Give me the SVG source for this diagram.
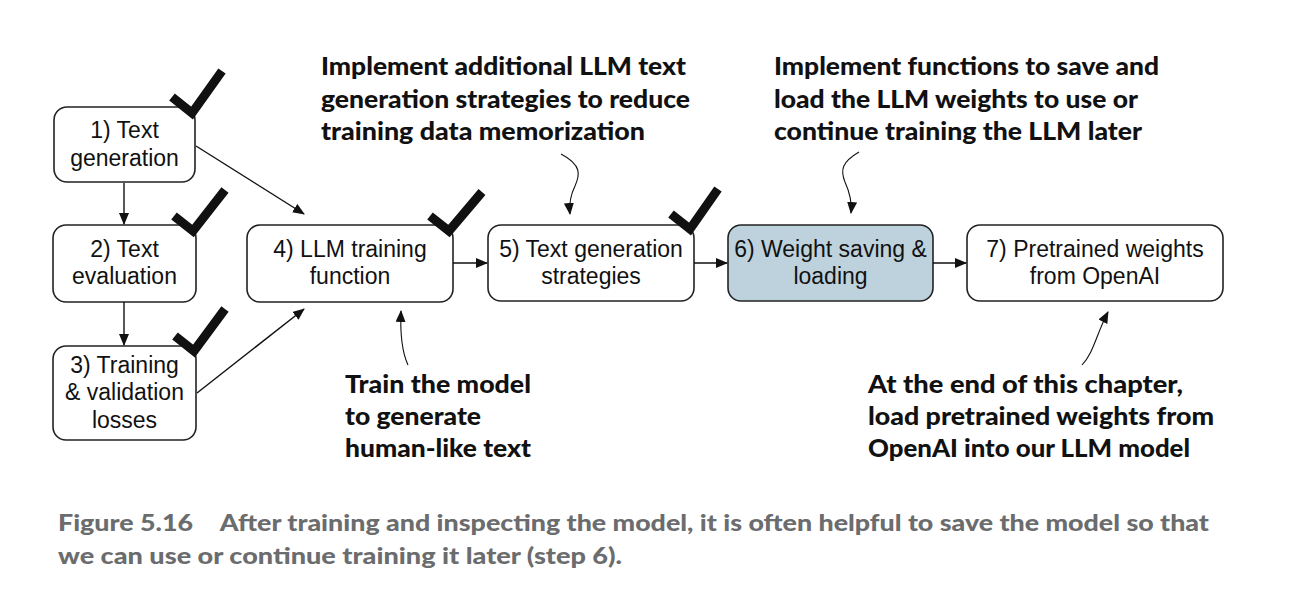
<svg xmlns="http://www.w3.org/2000/svg" width="1308" height="596" viewBox="0 0 1308 596">
<style>
.box{fill:#fff;stroke:#222;stroke-width:1.6}
.hl{fill:#bed2de}
.t{font-family:"Liberation Sans",Arial,sans-serif;font-size:23px;fill:#111;text-anchor:middle}
.a{font-family:Lato,"Open Sans",sans-serif;font-weight:900;font-size:25px;fill:#111}
.cap{font-family:Lato,"Liberation Sans",sans-serif;font-weight:900;font-size:22px;fill:#6b6c6e}
.chk{fill:none;stroke:#111;stroke-width:9;stroke-linejoin:miter;stroke-linecap:butt}
.c{fill:none;stroke:#111;stroke-width:1.4}
.w{fill:none;stroke:#111;stroke-width:1.1}
</style>
<defs>
<marker id="ah" markerWidth="12" markerHeight="10" refX="11" refY="5" orient="auto" markerUnits="userSpaceOnUse">
<path d="M0,0 L12,5 L0,10 z" fill="#111"/>
</marker>
</defs>
<rect width="1308" height="596" fill="#fff"/>

<g id="node1"><rect class="box" x="54" y="107" width="141" height="75" rx="13"/>
<text class="t" x="124.5" y="138">1) Text</text><text class="t" x="124.5" y="166">generation</text>
<path class="chk" d="M172,97 L192,113 L222,71"/></g>

<g id="node2"><rect class="box" x="53" y="225" width="143" height="77" rx="13"/>
<text class="t" x="124.5" y="257">2) Text</text><text class="t" x="124.5" y="284">evaluation</text>
<path class="chk" d="M174,216 L193,231 L225,190"/></g>

<g id="node3"><rect class="box" x="53" y="346" width="143" height="94" rx="13"/>
<text class="t" x="124.5" y="373">3) Training</text><text class="t" x="124.5" y="400">&amp; validation</text><text class="t" x="124.5" y="428">losses</text>
<path class="chk" d="M175,336 L194,351 L225,309"/></g>

<g id="node4"><rect class="box" x="247" y="225" width="206" height="77" rx="13"/>
<text class="t" x="350" y="257">4) LLM training</text><text class="t" x="350" y="284">function</text>
<path class="chk" d="M430,216 L449,231 L482,192"/></g>

<g id="node5"><rect class="box" x="488" y="225" width="206" height="76" rx="13"/>
<text class="t" x="591" y="257">5) Text generation</text><text class="t" x="591" y="284">strategies</text>
<path class="chk" d="M671,214 L690,229 L718,189"/></g>

<g id="node6"><rect class="box hl" x="728" y="225" width="205" height="76" rx="13"/>
<text class="t" x="830.5" y="257">6) Weight saving &amp;</text><text class="t" x="830.5" y="284">loading</text></g>

<g id="node7"><rect class="box" x="967" y="225" width="256" height="76" rx="13"/>
<text class="t" x="1095" y="257">7) Pretrained weights</text><text class="t" x="1095" y="284">from OpenAI</text></g>

<g id="connectors">
<line class="c" x1="124" y1="183" x2="124" y2="224" marker-end="url(#ah)"/>
<line class="c" x1="124" y1="302" x2="124" y2="345" marker-end="url(#ah)"/>
<line class="c" x1="196" y1="146" x2="304" y2="214" marker-end="url(#ah)"/>
<line class="c" x1="197" y1="393" x2="304" y2="309" marker-end="url(#ah)"/>
<line class="c" x1="453" y1="263" x2="487" y2="263" marker-end="url(#ah)"/>
<line class="c" x1="694" y1="263" x2="727" y2="263" marker-end="url(#ah)"/>
<line class="c" x1="933" y1="263" x2="966" y2="263" marker-end="url(#ah)"/>
<path class="w" d="M561,154 C582,165 580,175 575,186 C570,196 569,204 570,214" marker-end="url(#ah)"/>
<path class="w" d="M859,152 C842,162 840,170 845,182 C850,193 852,203 851,213" marker-end="url(#ah)"/>
<path class="w" d="M408,365 C402,352 400,335 401,311" marker-end="url(#ah)"/>
<path class="w" d="M1082,365 C1094,352 1096,335 1108,312" marker-end="url(#ah)"/>
</g>

<g id="annotations">
<text class="a" x="321" y="75" textLength="365" lengthAdjust="spacingAndGlyphs">Implement additional LLM text</text>
<text class="a" x="321" y="108" textLength="369" lengthAdjust="spacingAndGlyphs">generation strategies to reduce</text>
<text class="a" x="321" y="140" textLength="324" lengthAdjust="spacingAndGlyphs">training data memorization</text>
<text class="a" x="774" y="75" textLength="385" lengthAdjust="spacingAndGlyphs">Implement functions to save and</text>
<text class="a" x="774" y="108" textLength="364" lengthAdjust="spacingAndGlyphs">load the LLM weights to use or</text>
<text class="a" x="774" y="140" textLength="368" lengthAdjust="spacingAndGlyphs">continue training the LLM later</text>
<text class="a" x="345" y="393" textLength="186" lengthAdjust="spacingAndGlyphs">Train the model</text>
<text class="a" x="345" y="425" textLength="136" lengthAdjust="spacingAndGlyphs">to generate</text>
<text class="a" x="345" y="457" textLength="186" lengthAdjust="spacingAndGlyphs">human-like text</text>
<text class="a" x="868" y="393" textLength="315" lengthAdjust="spacingAndGlyphs">At the end of this chapter,</text>
<text class="a" x="868" y="425" textLength="346" lengthAdjust="spacingAndGlyphs">load pretrained weights from</text>
<text class="a" x="868" y="457" textLength="322" lengthAdjust="spacingAndGlyphs">OpenAI into our LLM model</text>
</g>

<g id="caption">
<text class="cap" x="58" y="531" textLength="1151" lengthAdjust="spacingAndGlyphs">Figure 5.16<tspan dx="22">After training and inspecting the model, it is often helpful to save the model so that</tspan></text>
<text class="cap" x="58" y="564" textLength="564" lengthAdjust="spacingAndGlyphs">we can use or continue training it later (step 6).</text>
</g>
</svg>
